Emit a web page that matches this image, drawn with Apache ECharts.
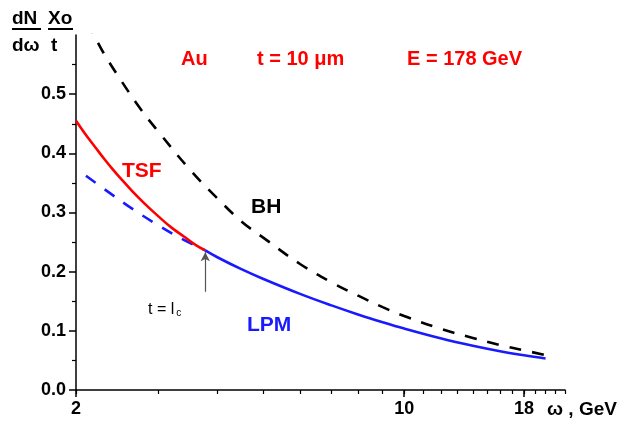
<!DOCTYPE html>
<html>
<head>
<meta charset="utf-8">
<script src="https://cdn.jsdelivr.net/npm/echarts@6/dist/echarts.min.js"></script>
<style>
html,body{margin:0;padding:0;background:#fff;}
#chart{width:623px;height:422px;}
</style>
</head>
<body>
<div id="chart"></div>
<script>
// ---- data (ω in GeV, y = dN/dω · Xo/t) ----
const omegaTSF = [2, 2.1, 2.2, 2.3, 2.4, 2.5, 2.65, 2.8, 3, 3.2, 3.4, 3.6, 3.77];
const valuesTSF = [0.455, 0.431, 0.410, 0.390, 0.372, 0.356, 0.334, 0.315, 0.293, 0.274, 0.259, 0.245, 0.236];

const omegaLPMdash = [2.1, 2.35, 2.65, 3, 3.35, 3.77];
const valuesLPMdash = [0.362, 0.334, 0.305, 0.278, 0.256, 0.236];

const omegaLPM = [3.77, 4, 4.5, 5, 6, 7, 8, 9, 10, 12, 14, 16, 18, 20];
const valuesLPM = [0.236, 0.2244, 0.2042, 0.1881, 0.1625, 0.143, 0.1273, 0.1145, 0.1038, 0.087, 0.0748, 0.0656, 0.0586, 0.0531];

const omegaBH = [2, 2.16, 2.3, 2.5, 2.75, 3, 3.5, 4, 4.5, 5, 6, 7, 8, 9, 10, 12, 14, 16, 18, 20];
const valuesBH = [0.655, 0.607, 0.567, 0.522, 0.474, 0.436, 0.372, 0.324, 0.285, 0.258, 0.213, 0.182, 0.159, 0.140, 0.125, 0.103, 0.088, 0.076, 0.067, 0.059];

// arrow marking t = l_c
const arrowOmega = 3.77;
const arrowFrom = 0.166;
const arrowTo = 0.233;

// axes
const xMin = 2, xMax = 22;
const xMajorTicks = [2, 10, 18];
const xMinorTicks = [2, 3, 4, 5, 6, 7, 8, 9, 10, 11, 12, 13, 14, 15, 16, 17, 18, 19, 20, 21, 22];
const yMin = 0, yMax = 0.6, yInterval = 0.1;
const yTicks = [0, 0.1, 0.2, 0.3, 0.4, 0.5];

const lg = Math.log10;
const pairs = (xs, ys) => xs.map((x, i) => [lg(x), ys[i]]);

const FONT = '"Liberation Sans", Arial, sans-serif';
const chart = echarts.init(document.getElementById('chart'), null, {renderer: 'canvas'});

const baseX = {
  type: 'value', min: lg(xMin), max: lg(xMax), position: 'bottom',
  splitLine: {show: false}
};

chart.setOption({
  animation: false,
  backgroundColor: '#ffffff',
  grid: {left: 76, right: 58, top: 35, bottom: 32, containLabel: false, outerBoundsMode: 'none'},
  xAxis: [
    Object.assign({}, baseX, {
      axisLine: {show: true, lineStyle: {color: '#000', width: 1.5}},
      axisTick: {show: true, inside: false, length: 7, lineStyle: {color: '#000', width: 1.5},
                 customValues: xMajorTicks.map(lg)},
      axisLabel: {show: true, margin: 10, color: '#000', fontSize: 18, fontWeight: 'bold', fontFamily: FONT,
                  customValues: xMajorTicks.map(lg),
                  formatter: v => String(Math.round(Math.pow(10, v)))},
      name: 'ω , GeV', nameLocation: 'end', nameGap: -18,
      nameTextStyle: {color: '#000', fontSize: 19, fontWeight: 'bold', fontFamily: FONT,
                      verticalAlign: 'top', align: 'left', padding: [10, 0, 0, 0]}
    }),
    Object.assign({}, baseX, {
      axisLine: {show: false},
      axisTick: {show: true, inside: false, length: 4, lineStyle: {color: '#000', width: 1.2},
                 customValues: xMinorTicks.map(lg)},
      axisLabel: {show: false}
    })
  ],
  yAxis: {
    type: 'value', min: yMin, max: yMax, interval: yInterval,
    splitLine: {show: false},
    axisLine: {show: true, lineStyle: {color: '#000', width: 1.5}},
    axisTick: {show: true, inside: false, length: 7, lineStyle: {color: '#000', width: 1.5},
               customValues: yTicks},
    minorTick: {show: true, splitNumber: 2, length: 4, lineStyle: {color: '#000', width: 1.2}},
    axisLabel: {margin: 10, color: '#000', fontSize: 18, fontWeight: 'bold', fontFamily: FONT,
                customValues: yTicks, formatter: v => v.toFixed(1)}
  },
  series: [
    {
      name: 'BH', type: 'line', xAxisIndex: 0, data: pairs(omegaBH, valuesBH),
      showSymbol: false, symbol: 'none', smooth: 0.4, clip: true, silent: true,
      lineStyle: {color: '#000', width: 2.6, type: [12, 11]}
    },
    {
      name: 'LPM dashed', type: 'line', xAxisIndex: 0, data: pairs(omegaLPMdash, valuesLPMdash),
      showSymbol: false, symbol: 'none', smooth: 0.4, silent: true,
      lineStyle: {color: '#1a1aff', width: 2.6, type: [12, 11]}
    },
    {
      name: 'TSF', type: 'line', xAxisIndex: 0, data: pairs(omegaTSF, valuesTSF),
      showSymbol: false, symbol: 'none', smooth: 0.4, silent: true,
      lineStyle: {color: '#ff0000', width: 2.6}
    },
    {
      name: 'LPM', type: 'line', xAxisIndex: 0, data: pairs(omegaLPM, valuesLPM),
      showSymbol: false, symbol: 'none', smooth: 0.4, silent: true,
      lineStyle: {color: '#1a1aff', width: 2.6},
      markLine: {
        silent: true, symbol: ['none', 'arrow'], symbolSize: [7, 9],
        label: {show: false},
        lineStyle: {color: '#555', width: 1.2, type: 'solid'},
        data: [[{coord: [lg(arrowOmega), arrowFrom]}, {coord: [lg(arrowOmega), arrowTo]}]]
      }
    }
  ],
  graphic: [
    // y-axis title  dN/dω · Xo/t
    {type: 'text', left: 12, top: 9, style: {text: 'dN', font: 'bold 19px ' + FONT, fill: '#000'}},
    {type: 'text', left: 48, top: 9, style: {text: 'Xo', font: 'bold 19px ' + FONT, fill: '#000'}},
    {type: 'rect', shape: {x: 12, y: 28, width: 29, height: 2}, style: {fill: '#000'}},
    {type: 'rect', shape: {x: 48, y: 28, width: 25, height: 2}, style: {fill: '#000'}},
    {type: 'text', left: 12, top: 36, style: {text: 'dω', font: 'bold 19px ' + FONT, fill: '#000'}},
    {type: 'text', left: 51, top: 36, style: {text: 't', font: 'bold 19px ' + FONT, fill: '#000'}},
    // header
    {type: 'text', left: 181, top: 49, style: {text: 'Au', font: 'bold 20px ' + FONT, fill: '#ff0000'}},
    {type: 'text', left: 257, top: 49, style: {text: 't = 10 μm', font: 'bold 20px ' + FONT, fill: '#ff0000'}},
    {type: 'text', left: 407, top: 49, style: {text: 'E = 178 GeV', font: 'bold 20px ' + FONT, fill: '#ff0000'}},
    // curve labels
    {type: 'text', left: 122, top: 161, style: {text: 'TSF', font: 'bold 21px ' + FONT, fill: '#ff0000'}},
    {type: 'text', left: 251, top: 197, style: {text: 'BH', font: 'bold 21px ' + FONT, fill: '#000'}},
    {type: 'text', left: 247, top: 315, style: {text: 'LPM', font: 'bold 21px ' + FONT, fill: '#1a1aff'}},
    {type: 'text', left: 148, top: 302, style: {
      text: '{a|t = l}{b|c}',
      rich: {
        a: {font: '16px ' + FONT, fill: '#000', verticalAlign: 'bottom'},
        b: {font: '10px ' + FONT, fill: '#000', padding: [10, 0, 0, 2]}
      }
    }}
  ]
});
</script>
</body>
</html>
